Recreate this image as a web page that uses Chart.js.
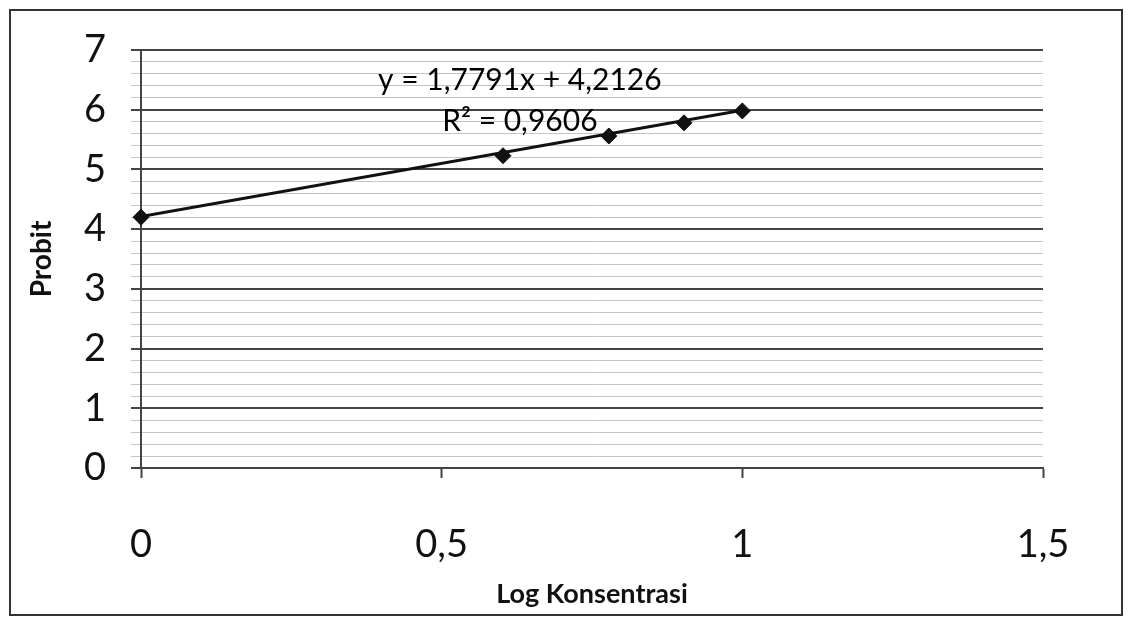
<!DOCTYPE html>
<html>
<head>
<meta charset="utf-8">
<title>Probit vs Log Konsentrasi</title>
<script src="https://cdn.jsdelivr.net/npm/chart.js@4/dist/chart.umd.min.js"></script>
<style>
    body { margin: 0; background: #fff; }
    #wrap { width: 1136px; height: 624px; position: relative; }
</style>
</head>
<body>
<div id="wrap"><canvas id="chart"></canvas></div>
<script>
// data
const logKonsentrasi = [0, 0.602, 0.778, 0.903, 1];
const probit = [4.2, 5.23, 5.56, 5.78, 5.98];

// linear trendline: y = 1,7791x + 4,2126 (ends at first and last point)
const trendX = [0, 1];
const trendY = [4.2126, 5.9917];

const equationText = "y = 1,7791x + 4,2126";
const r2Text = "R\u00b2 = 0,9606";

const xTicks = [0, 0.5, 1, 1.5];
const yMin = 0;
const yMax = 7;

const FONT = "Lato, 'Open Sans', sans-serif";

function isMajor(v) {
    return Math.abs(v - Math.round(v)) < 1e-6;
}

const pointData = logKonsentrasi.map((x, i) => ({ x: x, y: probit[i] }));
const trendData = trendX.map((x, i) => ({ x: x, y: trendY[i] }));

// outer frame + equation labels
const extras = {
    id: 'extras',
    afterDraw(chart) {
        const ctx = chart.ctx;
        const xs = chart.scales.x;
        const ys = chart.scales.y;
        ctx.save();
        ctx.strokeStyle = '#333';
        ctx.lineWidth = 2;
        ctx.strokeRect(10, 10, 1112, 605);

        ctx.fillStyle = '#000';
        ctx.font = '30px ' + FONT;
        ctx.textAlign = 'center';
        ctx.textBaseline = 'middle';
        ctx.fillText(equationText, xs.getPixelForValue(0.63), ys.getPixelForValue(6.5));
        ctx.fillText(r2Text, xs.getPixelForValue(0.63), ys.getPixelForValue(5.8));
        ctx.restore();
    }
};

new Chart(document.getElementById('chart'), {
    type: 'scatter',
    data: {
        datasets: [
            {
                type: 'line',
                data: trendData,
                borderColor: '#111',
                borderWidth: 3,
                pointRadius: 0,
                fill: false,
                order: 2
            },
            {
                data: pointData,
                pointStyle: 'rectRot',
                pointRadius: 8,
                backgroundColor: '#111',
                borderColor: '#111',
                showLine: false,
                clip: false,
                order: 1
            }
        ]
    },
    options: {
        responsive: true,
        maintainAspectRatio: false,
        animation: false,
        devicePixelRatio: 1,
        layout: { padding: { left: 10, right: 93, top: 50, bottom: 0 } },
        plugins: {
            legend: { display: false },
            tooltip: { enabled: false }
        },
        scales: {
            x: {
                type: 'linear',
                min: xTicks[0],
                max: xTicks[xTicks.length - 1],
                afterFit: function (scale) { scale.height = 156; },
                afterBuildTicks: function (scale) {
                    scale.ticks = xTicks.map(v => ({ value: v }));
                },
                ticks: {
                    padding: 44,
                    color: '#111',
                    font: { family: FONT, size: 38 },
                    callback: v => String(v).replace('.', ',')
                },
                grid: {
                    drawOnChartArea: false,
                    drawTicks: true,
                    tickLength: 10,
                    tickColor: '#444',
                    tickWidth: 2
                },
                border: { color: '#444', width: 2 },
                title: {
                    display: true,
                    text: 'Log Konsentrasi',
                    color: '#111',
                    font: { family: FONT, size: 27, weight: 'bold' },
                    padding: { top: 0, bottom: 14 }
                }
            },
            y: {
                type: 'linear',
                min: yMin,
                max: yMax,
                afterFit: function (scale) { scale.width = 131; },
                ticks: {
                    stepSize: 0.2,
                    autoSkip: false,
                    padding: 25,
                    color: '#111',
                    font: { family: FONT, size: 38 },
                    callback: v => isMajor(v) ? String(Math.round(v)) : ''
                },
                grid: {
                    color: c => isMajor(c.tick.value) ? '#444' : '#c4c4c4',
                    lineWidth: c => isMajor(c.tick.value) ? 2 : 1,
                    tickColor: c => isMajor(c.tick.value) ? '#444' : '#c4c4c4',
                    tickLength: 10
                },
                border: { color: '#444', width: 2 },
                title: {
                    display: true,
                    text: 'Probit',
                    color: '#111',
                    font: { family: FONT, size: 28, weight: 'bold' },
                    padding: { top: 15, bottom: 0 }
                }
            }
        }
    },
    plugins: [extras]
});
</script>
</body>
</html>
